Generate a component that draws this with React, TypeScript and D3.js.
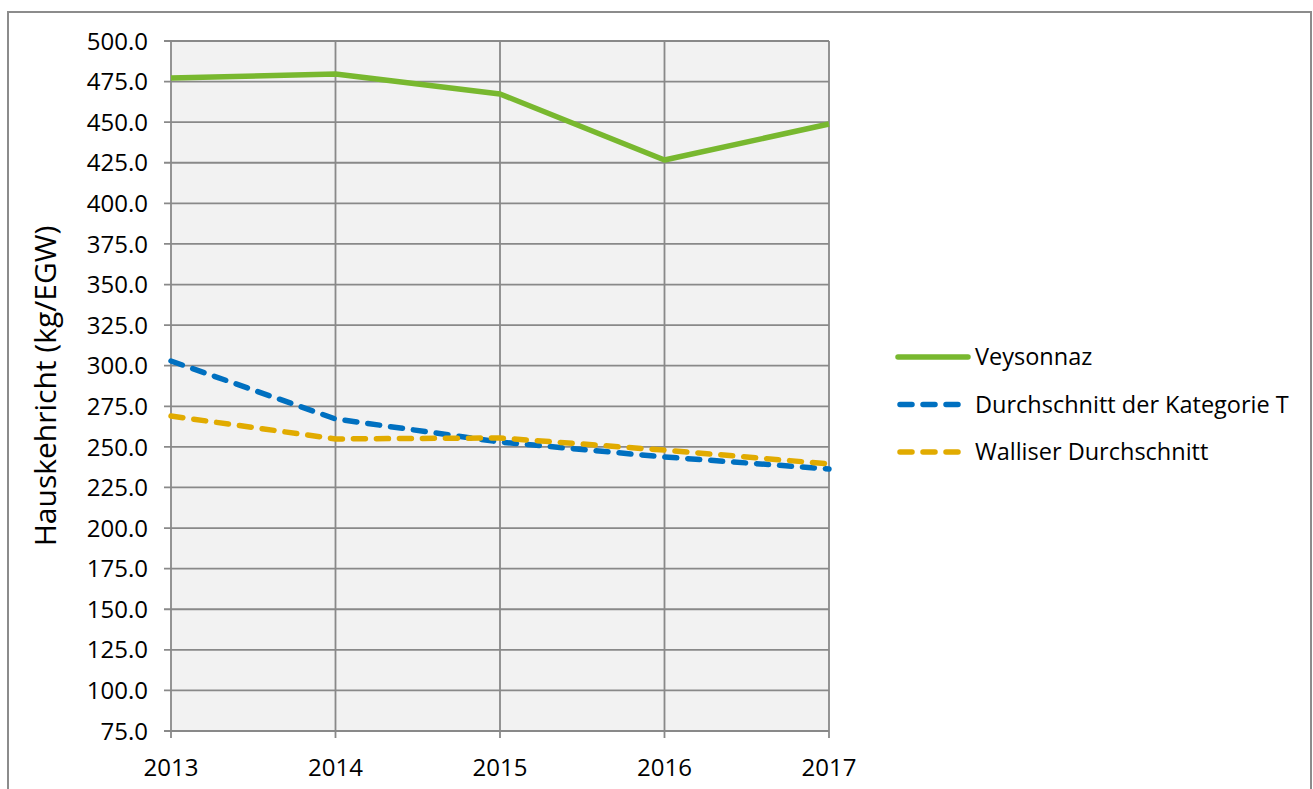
import React from "react";
import * as d3 from "d3";

const years = [2013, 2014, 2015, 2016, 2017];
const veysonnaz = [477.2, 479.7, 467.4, 426.7, 448.9];
const kategorieT = [302.9, 267.2, 253.0, 243.8, 236.4];
const walliser = [269.0, 254.9, 255.5, 248.0, 239.5];
const yTicks = d3.range(75, 500.1, 25);

const seriesNames = ["Veysonnaz", "Durchschnitt der Kategorie T", "Walliser Durchschnitt"];
const seriesColors = ["#78b82f", "#0070c0", "#e1ab00"];
const seriesDash = [null, "12 11", "12 11"];
const seriesData = [veysonnaz, kategorieT, walliser];

const W = 1313;
const H = 789;
const left = 171;
const right = 829;
const top = 41;
const bottom = 731;
const FONT = "'Open Sans', sans-serif";

export default function App() {
  const x = d3.scalePoint<number>().domain(years).range([left, right]);
  const y = d3.scaleLinear().domain([75, 500]).range([bottom, top]);
  const line = d3
    .line<number>()
    .x((_, i) => x(years[i]) as number)
    .y((d) => y(d));

  const grid = "#898989";

  return (
    <svg
      width={W}
      height={H}
      style={{ position: "absolute", left: 0, top: 0, background: "#fff" }}
      fontFamily={FONT}
    >
      <rect x={8} y={12} width={1303} height={800} fill="#fff" stroke="#8c8c8c" strokeWidth={2} />
      <rect x={left} y={top} width={right - left} height={bottom - top} fill="#f2f2f2" />
      {yTicks.map((t) => (
        <g key={t}>
          <line x1={left - 7} x2={right} y1={y(t)} y2={y(t)} stroke={grid} strokeWidth={1.8} />
          <text x={148} y={y(t)} dy="0.36em" textAnchor="end" fontSize={24} fill="#000">
            {t.toFixed(1)}
          </text>
        </g>
      ))}
      {years.map((yr) => (
        <g key={yr}>
          <line
            x1={x(yr)}
            x2={x(yr)}
            y1={top}
            y2={bottom + 7}
            stroke={grid}
            strokeWidth={1.8}
          />
          <text x={x(yr)} y={776} textAnchor="middle" fontSize={24} fill="#000">
            {yr}
          </text>
        </g>
      ))}
      <text
        transform={`translate(56, ${(top + bottom) / 2}) rotate(-90)`}
        textAnchor="middle"
        fontSize={30}
        fill="#000"
      >
        Hauskehricht (kg/EGW)
      </text>
      {seriesData.map((s, i) => (
        <path
          key={i}
          d={line(s) || ""}
          fill="none"
          stroke={seriesColors[i]}
          strokeWidth={5.5}
          strokeDasharray={seriesDash[i] || undefined}
          strokeLinecap={seriesDash[i] ? "round" : "butt"}
          strokeLinejoin="round"
        />
      ))}
      {seriesNames.map((n, i) => {
        const ly = 357 + i * 47.5;
        return (
          <g key={n}>
            <line
              x1={seriesDash[i] ? 900 : 898}
              x2={seriesDash[i] ? 966 : 968}
              y1={ly}
              y2={ly}
              stroke={seriesColors[i]}
              strokeWidth={5.5}
              strokeDasharray={seriesDash[i] || undefined}
              strokeLinecap="round"
            />
            <text x={975} y={ly} dy="0.36em" fontSize={23.5} fill="#000">
              {n}
            </text>
          </g>
        );
      })}
    </svg>
  );
}
